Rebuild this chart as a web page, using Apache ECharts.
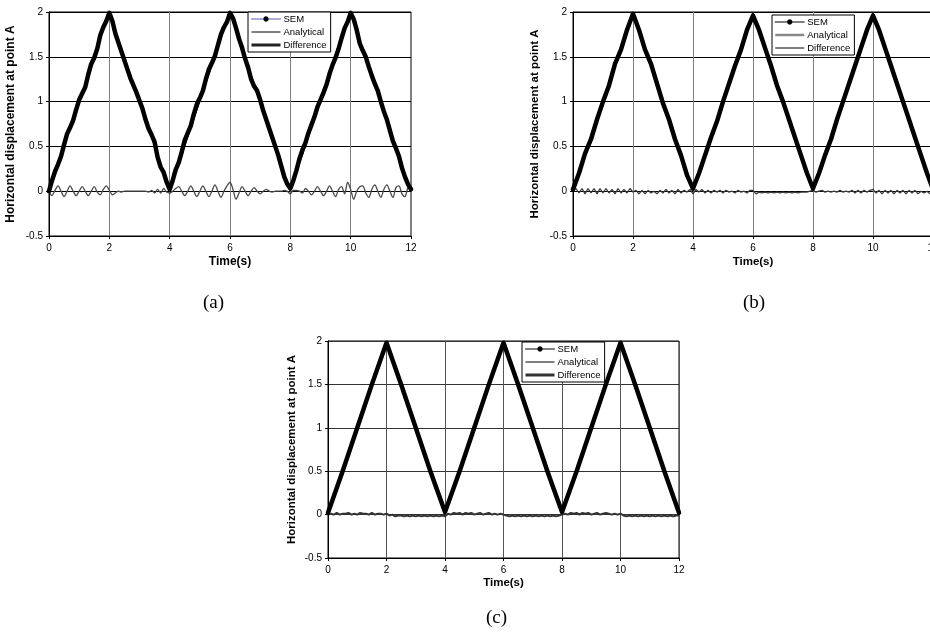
<!DOCTYPE html>
<html>
<head>
<meta charset="utf-8">
<script src="https://cdn.jsdelivr.net/npm/echarts/dist/echarts.min.js"></script>
<style>
  html, body { margin: 0; padding: 0; background: #fff; }
  #chart { width: 930px; height: 640px; }
</style>
</head>
<body>
<div id="chart"></div>
<script>
// axis ticks
const timeTicks = [0, 2, 4, 6, 8, 10, 12];
const dispTicks = [-0.5, 0, 0.5, 1, 1.5, 2];

// analytical solution: corners of the triangle wave
const peakTimes = [0, 2, 4, 6, 8, 10, 12];
const analyticalValues = [0, 2, 0, 2, 0, 2, 0];

// (a) sampled every 0.1 s
const fineStep = 0.1;
const semA = [
  0, 0.12, 0.22, 0.30, 0.39, 0.52, 0.64, 0.71, 0.79, 0.91, 1.02, 1.09, 1.16, 1.30, 1.42, 1.49, 1.59, 1.74, 1.83, 1.90, 1.99,
  1.90, 1.76, 1.66, 1.56, 1.46, 1.36, 1.26, 1.18, 1.10, 1.01, 0.92, 0.80, 0.70, 0.63, 0.55, 0.38, 0.27, 0.21, 0.10, 0.02,
  0.12, 0.24, 0.32, 0.44, 0.57, 0.65, 0.73, 0.86, 0.97, 1.04, 1.12, 1.25, 1.36, 1.43, 1.51, 1.63, 1.75, 1.83, 1.89, 1.99,
  1.93, 1.82, 1.70, 1.60, 1.48, 1.38, 1.25, 1.17, 1.12, 1.02, 0.90, 0.80, 0.70, 0.60, 0.50, 0.40, 0.28, 0.16, 0.08, 0.03,
  0.12, 0.23, 0.36, 0.46, 0.54, 0.65, 0.74, 0.83, 0.94, 1.02, 1.10, 1.19, 1.31, 1.41, 1.49, 1.59, 1.71, 1.82, 1.89, 1.99,
  1.92, 1.80, 1.65, 1.57, 1.50, 1.39, 1.29, 1.20, 1.12, 1.00, 0.89, 0.80, 0.68, 0.56, 0.48, 0.39, 0.26, 0.16, 0.08, 0.02
];
const diffA = [
  0, -0.05, 0.01, 0.06, 0.0, -0.06, 0.0, 0.06, 0.0, -0.05, 0.0, 0.05, 0.0, -0.05, 0.0, 0.05, -0.01, -0.04, 0.02, 0.06, 0.01,
  -0.04, -0.02, 0.0, -0.01, 0.0, 0.0, 0.0, 0.0, 0.0, 0.0, 0.0, 0.0, -0.01, 0.01, -0.02, 0.02, -0.02, 0.03, -0.01, -0.02,
  0.0, 0.03, 0.05, 0.0, -0.05, 0.0, 0.06, 0.0, -0.06, 0.0, 0.06, 0.0, -0.06, 0.0, 0.07, 0.0, -0.07, 0.0, 0.06, 0.10,
  0.02, -0.09, -0.02, 0.05, 0.0, -0.05, 0.0, 0.04, 0.0, -0.03, 0.0, 0.02, 0.0, -0.01, 0.0, 0.0, 0.0, 0.01, 0.0, -0.03,
  0.01, 0.01, 0.0, -0.02, 0.03, 0.0, -0.04, 0.0, 0.05, 0.0, -0.05, 0.0, 0.06, 0.0, -0.06, 0.02, 0.05, -0.03, 0.10, 0.02,
  -0.09, 0.0, 0.05, 0.06, -0.02, -0.07, 0.02, 0.07, 0.0, -0.07, 0.02, 0.07, 0.0, -0.07, 0.04, 0.06, -0.03, -0.06, 0.04, 0.05
];

// (b) SEM every 0.2 s, difference every 0.1 s
const coarseStep = 0.2;
const semB = [
  0.02, 0.20, 0.42, 0.58, 0.80, 1.00, 1.18, 1.42, 1.58, 1.80, 1.98,
  1.80, 1.58, 1.42, 1.20, 0.98, 0.80, 0.58, 0.40, 0.18, 0.03,
  0.20, 0.40, 0.60, 0.78, 1.00, 1.20, 1.40, 1.58, 1.80, 1.96,
  1.80, 1.60, 1.40, 1.18, 1.00, 0.80, 0.60, 0.40, 0.20, 0.03,
  0.20, 0.40, 0.58, 0.80, 1.00, 1.20, 1.40, 1.60, 1.80, 1.96,
  1.80, 1.60, 1.40, 1.20, 1.00, 0.80, 0.60, 0.40, 0.20, 0.02
];
const diffB = [
  0, 0.03, -0.02, 0.03, -0.03, 0.03, -0.02, 0.03, -0.03, 0.03, -0.02, 0.03, -0.02, 0.02, -0.03, 0.03, -0.02, 0.02, -0.02, 0.03, -0.01,
  0.01, -0.03, 0.01, -0.03, 0.01, -0.02, 0.0, -0.03, 0.01, -0.02, 0.02, -0.02, 0.01, -0.03, 0.02, -0.02, 0.01, -0.01, 0.02, -0.03,
  0.02, -0.01, 0.02, -0.02, 0.01, -0.02, 0.01, -0.01, 0.01, -0.02, 0.01, -0.01, 0.0, -0.02, 0.01, -0.01, 0.0, -0.02, 0.01, 0.01,
  -0.03, -0.01, -0.02, -0.01, -0.02, -0.01, -0.02, -0.01, -0.02, -0.01, -0.02, -0.01, -0.02, -0.01, -0.02, -0.01, -0.01, -0.01, 0.0, 0.01,
  -0.01, 0.0, 0.01, -0.01, 0.0, -0.01, 0.0, -0.01, 0.01, -0.01, 0.0, -0.01, 0.01, -0.02, 0.01, -0.02, 0.01, -0.01, 0.01, 0.02,
  -0.02, 0.01, -0.03, 0.01, -0.02, 0.01, -0.03, 0.01, -0.02, 0.01, -0.03, 0.01, -0.02, 0.01, -0.03, 0.0, -0.02, 0.0, -0.03, -0.01
];

// (c) SEM every 0.5 s, difference every 0.1 s
const halfStep = 0.5;
const semC = [
  0.02, 0.50, 1.00, 1.50, 1.98, 1.50, 1.00, 0.50, 0.03, 0.50, 1.00, 1.50, 1.98,
  1.50, 1.00, 0.50, 0.03, 0.50, 1.00, 1.50, 1.98, 1.50, 1.00, 0.50, 0.02
];
const diffC = [
  0.0, 0.01, 0.0, 0.02, 0.0, 0.01, 0.01, 0.02, 0.0, 0.01, 0.0, 0.02, 0.01, 0.01, 0.0, 0.02, 0.0, 0.01, 0.01, 0.0, 0.01,
  -0.01, 0.0, -0.02, -0.01, -0.01, -0.02, -0.01, -0.02, -0.01, -0.02, -0.01, -0.02, -0.01, -0.02, -0.01, -0.02, -0.01, -0.02, -0.01, -0.02,
  0.01, 0.0, 0.02, 0.01, 0.02, 0.0, 0.02, 0.01, 0.02, 0.0, 0.01, 0.02, 0.0, 0.01, 0.02, 0.0, 0.01, 0.0, 0.01, 0.0,
  -0.01, -0.02, -0.01, -0.02, -0.01, -0.02, -0.01, -0.02, -0.01, -0.02, -0.01, -0.02, -0.01, -0.02, -0.01, -0.02, -0.01, -0.02, -0.01, 0.0,
  0.01, 0.0, 0.02, 0.01, 0.02, 0.0, 0.02, 0.01, 0.02, 0.0, 0.01, 0.02, 0.0, 0.01, 0.02, 0.01, 0.0, 0.01, 0.0, 0.01,
  -0.01, -0.02, -0.01, -0.02, -0.01, -0.02, -0.01, -0.02, -0.01, -0.02, -0.01, -0.02, -0.01, -0.02, -0.01, -0.02, -0.01, -0.02, -0.01, -0.01
];

const seriesNames = ['SEM', 'Analytical', 'Difference'];
const font = "'Liberation Sans', Arial, sans-serif";

// sample index -> time
const withTime = (values, step) => values.map((v, i) => [+(i * step).toFixed(2), v]);
const analyticalPairs = peakTimes.map((t, i) => [t, analyticalValues[i]]);

const panels = [
  { grid: { left: 49, top: 12, width: 362, height: 224 }, nameSize: 12, yGap: 32, xGap: 20,
    vGrid: '#808080', hGrid: '#000', sem: withTime(semA, fineStep), diff: withTime(diffA, fineStep),
    diffColor: '#4a4a4a', diffWidth: 1.3, smooth: 0.3,
    legend: { left: 248, top: 12 },
    legendItems: [
      { color: '#5a5ab4', width: 1, dot: true },
      { color: '#000', width: 1 },
      { color: '#222', width: 3 }
    ] },
  // the right edge of panel (b) runs past the page, as in the source figure
  { grid: { left: 573, top: 12, width: 360, height: 224 }, nameSize: 11.5, yGap: 32, xGap: 20,
    vGrid: '#808080', hGrid: '#000', sem: withTime(semB, coarseStep), diff: withTime(diffB, fineStep),
    diffColor: '#3a3a3a', diffWidth: 1.3, smooth: false,
    legend: { left: 772, top: 15 },
    legendItems: [
      { color: '#000', width: 1, dot: true },
      { color: '#888', width: 2.5 },
      { color: '#000', width: 1 }
    ] },
  { grid: { left: 328, top: 341, width: 351, height: 217 }, nameSize: 11.5, yGap: 30, xGap: 19,
    vGrid: '#555', hGrid: '#333', sem: withTime(semC, halfStep), diff: withTime(diffC, fineStep),
    diffColor: '#333', diffWidth: 2, smooth: false,
    legend: { left: 522, top: 342 },
    legendItems: [
      { color: '#000', width: 1, dot: true },
      { color: '#000', width: 1 },
      { color: '#333', width: 3 }
    ] }
];

const option = {
  animation: false,
  backgroundColor: '#fff',
  title: [
    { text: '(a)', left: 198, top: 289 },
    { text: '(b)', left: 738, top: 289 },
    { text: '(c)', left: 481, top: 604 }
  ].map(t => Object.assign(t, {
    textStyle: { fontFamily: "'Liberation Serif', 'Times New Roman', serif", fontSize: 19, fontWeight: 'normal', color: '#000' }
  })),
  grid: panels.map(p => Object.assign({ show: true, borderColor: '#000', borderWidth: 1, outerBoundsMode: 'none' }, p.grid)),
  xAxis: panels.map((p, i) => ({
    type: 'value', gridIndex: i, min: timeTicks[0], max: timeTicks[timeTicks.length - 1], interval: 2,
    name: 'Time(s)', nameLocation: 'middle', nameGap: p.xGap,
    nameTextStyle: { fontFamily: font, fontSize: p.nameSize, fontWeight: 'bold', color: '#000' },
    axisLine: { onZero: false, lineStyle: { color: '#000', width: 1 } },
    axisTick: { length: 3, lineStyle: { color: '#000' } },
    axisLabel: { fontFamily: font, fontSize: 10, color: '#000', margin: 7 },
    splitLine: { show: true, lineStyle: { color: p.vGrid, width: 1 } }
  })),
  yAxis: panels.map((p, i) => ({
    type: 'value', gridIndex: i, min: dispTicks[0], max: dispTicks[dispTicks.length - 1], interval: 0.5,
    name: 'Horizontal displacement at point A', nameLocation: 'middle', nameGap: p.yGap, nameRotate: 90,
    nameTextStyle: { fontFamily: font, fontSize: p.nameSize, fontWeight: 'bold', color: '#000' },
    axisLine: { onZero: false, lineStyle: { color: '#000', width: 1 } },
    axisTick: { length: 3, lineStyle: { color: '#000' } },
    axisLabel: { fontFamily: font, fontSize: 10, color: '#000', margin: 6 },
    splitLine: { show: true, lineStyle: { color: p.hGrid, width: 1 } }
  })),
  legend: panels.map(p => ({
    left: p.legend.left, top: p.legend.top, orient: 'vertical',
    backgroundColor: '#fff', borderColor: '#000', borderWidth: 1, borderRadius: 0,
    padding: [2, 4, 2, 2], itemGap: 3, itemWidth: 29, itemHeight: 6, selectedMode: false,
    textStyle: { fontFamily: font, fontSize: 9.5, color: '#000', padding: [0, 0, 0, -2] },
    data: seriesNames.map((name, k) => {
      const s = p.legendItems[k];
      return {
        name,
        lineStyle: { color: s.color, width: s.width, type: 'solid' },
        itemStyle: s.dot ? { color: '#000', borderColor: '#000', borderWidth: 0.5, opacity: 1 } : { opacity: 0 }
      };
    })
  })),
  series: panels.flatMap((p, i) => [
    { name: 'Analytical', type: 'line', xAxisIndex: i, yAxisIndex: i, data: analyticalPairs,
      symbol: 'none', lineStyle: { color: '#000', width: 1 }, z: 2 },
    { name: 'Difference', type: 'line', xAxisIndex: i, yAxisIndex: i, data: p.diff, smooth: p.smooth,
      symbol: 'none', lineStyle: { color: p.diffColor, width: p.diffWidth }, z: 3 },
    { name: 'SEM', type: 'line', xAxisIndex: i, yAxisIndex: i, data: p.sem, smooth: false,
      symbol: 'circle', showSymbol: false, symbolSize: 3, itemStyle: { color: '#000' },
      lineStyle: { color: '#000', width: 4.5, join: 'round', cap: 'round' }, z: 4 }
  ])
};

const myChart = echarts.init(document.getElementById('chart'), null, { renderer: 'canvas' });
myChart.setOption(option);
</script>
</body>
</html>
